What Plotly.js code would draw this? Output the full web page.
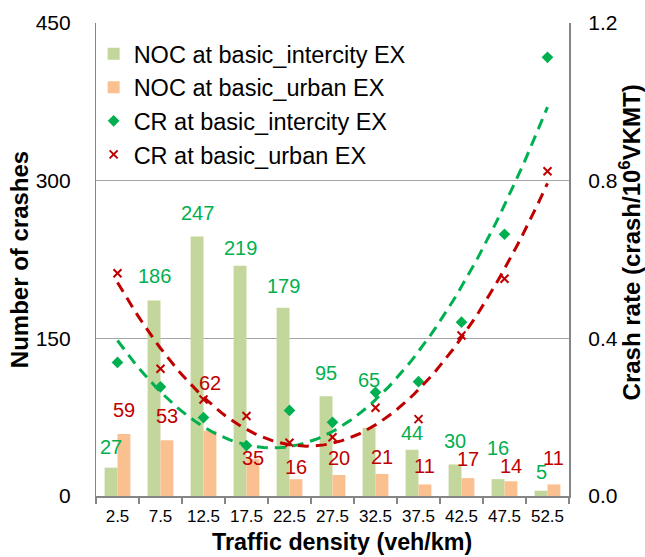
<!DOCTYPE html>
<html>
<head>
<meta charset="utf-8">
<script src="https://cdn.plot.ly/plotly-3.0.1.min.js"></script>
<style>
  html, body { margin: 0; padding: 0; background: #ffffff; }
  #chart { width: 645px; height: 557px; }
</style>
</head>
<body>
<div id="chart"></div>
<script>
// ---- data ----
const densityLabels = ['2.5','7.5','12.5','17.5','22.5','27.5','32.5','37.5','42.5','47.5','52.5'];
const nocIntercity = [27, 186, 247, 219, 179, 95, 65, 44, 30, 16, 5];
const nocUrban     = [59, 53, 62, 35, 16, 20, 21, 11, 17, 14, 11];
const crIntercity  = [0.339, 0.277, 0.199, 0.128, 0.217, 0.187, 0.263, 0.290, 0.441, 0.664, 1.113];
const crUrban      = [0.565, 0.323, 0.245, 0.203, 0.135, 0.149, 0.224, 0.195, 0.407, 0.551, 0.824];
const countTicks   = [0, 150, 300, 450];
const rateTicks    = [0, 0.4, 0.8, 1.2];

// label nudges (pixels above bar top), styling only
const labelLiftIntercity = [21, 24, 23, 18, 22, 23, 48, 17, 23, 31, 19];
const labelLiftUrban     = [24, 24, 48, 1, 12, 17, 17, 18, 19, 15, 26];

const density = densityLabels.map(Number);

// ---- 2nd-order polynomial trend (least squares), like a spreadsheet trendline ----
function polyfit(xs, ys, order) {
  const n = order + 1;
  const A = Array.from({length: n}, () => new Array(n + 1).fill(0));
  for (let i = 0; i < xs.length; i++) {
    for (let r = 0; r < n; r++) {
      for (let c = 0; c < n; c++) A[r][c] += Math.pow(xs[i], r + c);
      A[r][n] += ys[i] * Math.pow(xs[i], r);
    }
  }
  for (let p = 0; p < n; p++) {
    let max = p;
    for (let r = p + 1; r < n; r++) if (Math.abs(A[r][p]) > Math.abs(A[max][p])) max = r;
    [A[p], A[max]] = [A[max], A[p]];
    for (let r = 0; r < n; r++) {
      if (r === p) continue;
      const f = A[r][p] / A[p][p];
      for (let c = p; c <= n; c++) A[r][c] -= f * A[p][c];
    }
  }
  return A.map((row, i) => row[n] / row[i]);
}
function trend(ys) {
  const coef = polyfit(density, ys, 2);
  const x0 = density[0], x1 = density[density.length - 1];
  const xs = [], yv = [];
  for (let k = 0; k <= 100; k++) {
    const x = x0 + (x1 - x0) * k / 100;
    xs.push(x);
    yv.push(coef.reduce((s, c, i) => s + c * Math.pow(x, i), 0));
  }
  return {xs, yv};
}
const tI = trend(crIntercity);
const tU = trend(crUrban);

const FONT = 'Liberation Sans, Arial, sans-serif';
const GREEN_BAR = '#C3D69B', ORANGE_BAR = '#FAC090';
const GREEN = '#00B050', RED = '#C00000';
const AXIS = '#868686', CLEAR = 'rgba(0,0,0,0)';

const traces = [
  {type: 'bar', name: 'NOC at basic_intercity EX', x: density, y: nocIntercity,
   marker: {color: GREEN_BAR}, hoverinfo: 'skip'},
  {type: 'bar', name: 'NOC at basic_urban EX', x: density, y: nocUrban,
   marker: {color: ORANGE_BAR}, hoverinfo: 'skip'},
  {type: 'scatter', mode: 'markers', name: 'CR at basic_intercity EX', x: density, y: crIntercity,
   yaxis: 'y2', marker: {symbol: 'diamond', size: 9, color: GREEN}},
  {type: 'scatter', mode: 'markers', name: 'CR at basic_urban EX', x: density, y: crUrban,
   yaxis: 'y2', marker: {symbol: 'x-thin-open', size: 8, color: RED, line: {color: RED, width: 2}}},
  {type: 'scatter', mode: 'lines', x: tI.xs, y: tI.yv, yaxis: 'y2', showlegend: false,
   line: {color: GREEN, width: 3, dash: '11px,7px'}, hoverinfo: 'skip'},
  {type: 'scatter', mode: 'lines', x: tU.xs, y: tU.yv, yaxis: 'y2', showlegend: false,
   line: {color: RED, width: 3, dash: '11px,7px'}, hoverinfo: 'skip'}
];

const BAR_SHIFT = 6.45; // half of one bar width in px
const annotations = [];
density.forEach((d, i) => {
  annotations.push({x: d, y: nocIntercity[i], xref: 'x', yref: 'y', text: String(nocIntercity[i]),
    showarrow: false, xshift: -BAR_SHIFT, yshift: labelLiftIntercity[i], yanchor: 'middle',
    font: {family: FONT, size: 20, color: GREEN}});
  annotations.push({x: d, y: nocUrban[i], xref: 'x', yref: 'y', text: String(nocUrban[i]),
    showarrow: false, xshift: BAR_SHIFT, yshift: labelLiftUrban[i], yanchor: 'middle',
    font: {family: FONT, size: 20, color: RED}});
});
// axis titles placed as in the reference
annotations.push({text: 'Traffic density (veh/km)', xref: 'paper', yref: 'paper', x: 0.5, y: 0,
  xanchor: 'center', yanchor: 'top', xshift: 9.5, yshift: -30.5, showarrow: false,
  font: {family: FONT, size: 23.3, color: '#000000', weight: 'bold'}});
annotations.push({text: 'Crash rate (crash/10<sup>6</sup>VKMT)', textangle: -90, xref: 'paper', yref: 'paper',
  x: 1, y: 0.535, xanchor: 'left', yanchor: 'middle', xshift: 43.5, showarrow: false,
  font: {family: FONT, size: 24, color: '#000000', weight: 'bold'}});

const layout = {
  width: 645, height: 557,
  margin: {l: 96, r: 76, t: 23, b: 61, pad: 0},
  paper_bgcolor: '#ffffff', plot_bgcolor: '#ffffff',
  font: {family: FONT, color: '#000000'},
  barmode: 'group', bargap: 0.4, bargroupgap: 0,
  showlegend: true,
  legend: {x: -0.005, y: 0.981, xanchor: 'left', yanchor: 'top',
           bgcolor: 'rgba(0,0,0,0)', font: {family: FONT, size: 23.5, color: '#000000'},
           tracegroupgap: 0},
  xaxis: {
    type: 'linear', range: [0, 55], tickmode: 'array', tickvals: density, ticktext: densityLabels,
    ticks: 'outside', ticklen: 4, tickcolor: CLEAR, showgrid: false, zeroline: false,
    showline: true, linecolor: AXIS, linewidth: 1.5,
    minor: {tick0: 0, dtick: 5, ticks: 'outside', ticklen: 6, tickcolor: AXIS, tickwidth: 1.5, showgrid: false},
    tickfont: {family: FONT, size: 17, color: '#000000'},
    automargin: false
  },
  yaxis: {
    range: [0, 450], tickvals: countTicks, ticks: 'outside', ticklen: 19.6,
    tickcolor: CLEAR, tickwidth: 1.5,
    showgrid: true, gridcolor: '#A6A6A6', gridwidth: 1.5, zeroline: false,
    showline: true, linecolor: AXIS, linewidth: 1.5,
    tickfont: {family: FONT, size: 21, color: '#000000'},
    title: {text: 'Number of crashes', font: {family: FONT, size: 24, color: '#000000', weight: 'bold'}, standoff: 0.5},
    automargin: 'left'
  },
  yaxis3: {
    overlaying: 'y', side: 'left', anchor: 'x',
    range: [0, 450], tickvals: countTicks, ticks: 'outside', ticklen: 7,
    tickcolor: AXIS, tickwidth: 1.5, showticklabels: false,
    showgrid: false, zeroline: false, showline: false, automargin: false
  },
  yaxis2: {
    overlaying: 'y', side: 'right', anchor: 'x',
    range: [0, 1.2], tickvals: rateTicks, tickformat: '.1f', ticks: 'outside', ticklen: 13.6,
    tickcolor: CLEAR, tickwidth: 1.5,
    showgrid: false, zeroline: false,
    showline: true, linecolor: AXIS, linewidth: 1.5,
    tickfont: {family: FONT, size: 21, color: '#000000'},
    automargin: false
  },
  yaxis4: {
    overlaying: 'y', side: 'right', anchor: 'x',
    range: [0, 1.2], tickvals: rateTicks, ticks: 'outside', ticklen: 7,
    tickcolor: AXIS, tickwidth: 1.5, showticklabels: false,
    showgrid: false, zeroline: false, showline: false, automargin: false
  },
  annotations: annotations
};

Plotly.newPlot('chart', traces, layout, {staticPlot: true, displayModeBar: false});
</script>
</body>
</html>
